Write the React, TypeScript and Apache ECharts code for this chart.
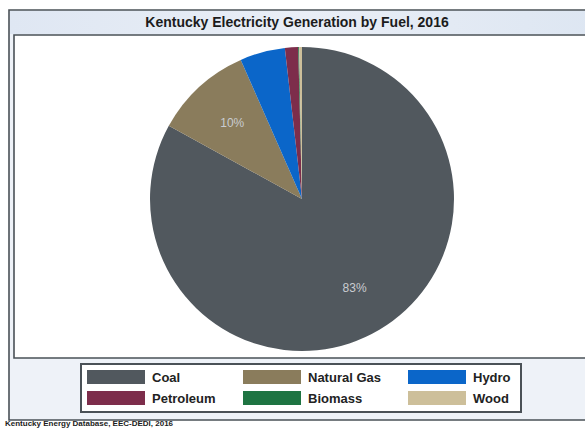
import React, { useEffect, useRef } from "react";
import * as echarts from "echarts";

const title = "Kentucky Electricity Generation by Fuel, 2016";
const source = "Kentucky Energy Database, EEC-DEDI, 2016";
const fuels = ["Coal", "Natural Gas", "Hydro", "Petroleum", "Biomass", "Wood"];
const shares = [83.0, 10.4, 4.8, 1.4, 0.1, 0.3];
const colors = ["#51585e", "#8a7c5c", "#0b66c9", "#7d2d4b", "#1e7442", "#cdbf9a"];
const legendColumns = [
  ["Coal", "Petroleum"],
  ["Natural Gas", "Biomass"],
  ["Hydro", "Wood"],
];
const legendLefts = [87, 243, 408];

export default function App() {
  const ref = useRef<HTMLDivElement>(null);
  useEffect(() => {
    if (!ref.current) return;
    const chart = echarts.init(ref.current, undefined, { renderer: "svg" });
    const data = fuels.map((name, i) => ({
      name,
      value: shares[i],
      itemStyle: { color: colors[i] },
    }));
    const center = [302, 199];
    const R = 152;
    chart.setOption({
      animation: false,
      backgroundColor: "#ffffff",
      graphic: [
        {
          type: "rect",
          shape: { x: 9, y: 10, width: 600, height: 410 },
          style: { fill: "#eef2f8", stroke: "#4a5157", lineWidth: 1.6 },
          z: -10,
        },
        {
          type: "rect",
          shape: { x: 10, y: 11, width: 590, height: 23 },
          style: {
            fill: new echarts.graphic.LinearGradient(0, 0, 1, 0, [
              { offset: 0, color: "#dfe7f3" },
              { offset: 0.5, color: "#e9eef6" },
              { offset: 1, color: "#dde6f2" },
            ]),
          },
          z: -9,
        },
        {
          type: "rect",
          shape: { x: 14, y: 35, width: 600, height: 323 },
          style: { fill: "#ffffff", stroke: "#4a5157", lineWidth: 1.6 },
          z: -8,
        },
        {
          type: "rect",
          shape: { x: 81, y: 364, width: 440, height: 48 },
          style: { fill: "#ffffff", stroke: "#4a5157", lineWidth: 2 },
          z: -7,
        },
        {
          type: "text",
          x: 297,
          y: 22,
          style: {
            text: title,
            fontFamily: "Liberation Sans, Arial, sans-serif",
            fontSize: 14,
            fontWeight: "bold",
            fill: "#1c1c1c",
            align: "center",
            verticalAlign: "middle",
          },
        },
        {
          type: "text",
          x: 5,
          y: 423,
          style: {
            text: source,
            fontFamily: "Liberation Sans, Arial, sans-serif",
            fontSize: 8,
            fontWeight: "bold",
            fill: "#1c1c1c",
            align: "left",
            verticalAlign: "middle",
          },
        },
      ],
      legend: legendColumns.map((col, i) => ({
        data: col.map((n) => ({
          name: n,
          itemStyle: { color: colors[fuels.indexOf(n)], opacity: 1 },
        })),
        orient: "vertical",
        left: legendLefts[i],
        top: 370,
        itemWidth: 58,
        itemHeight: 14,
        itemGap: 7,
        icon: "rect",
        selectedMode: false,
        padding: 0,
        textStyle: {
          fontFamily: "Liberation Sans, Arial, sans-serif",
          fontSize: 13,
          fontWeight: "bold",
          color: "#222222",
          padding: [0, 0, 0, 2],
        },
      })),
      series: [
        {
          type: "pie",
          center,
          radius: [0, R],
          startAngle: 90,
          clockwise: true,
          label: { show: false },
          labelLine: { show: false },
          emphasis: { disabled: true },
          data,
        },
        {
          type: "pie",
          center,
          radius: [0, R * 1.32],
          startAngle: 90,
          clockwise: true,
          silent: true,
          legendHoverLink: false,
          emphasis: { disabled: true },
          labelLine: { show: false },
          label: {
            show: true,
            position: "inside",
            color: "#c9ccd1",
            fontFamily: "Liberation Sans, Arial, sans-serif",
            fontSize: 12,
            formatter: (p: any) => (p.value >= 5 ? `${Math.round(p.percent)}%` : ""),
          },
          data: fuels.map((name, i) => ({
            name,
            value: shares[i],
            itemStyle: { color: "rgba(0,0,0,0)", borderWidth: 0 },
          })),
          z: 5,
        },
      ],
    });
    return () => chart.dispose();
  }, []);
  return (
    <div
      ref={ref}
      style={{ position: "absolute", left: 0, top: 0, width: 585, height: 430 }}
    />
  );
}
